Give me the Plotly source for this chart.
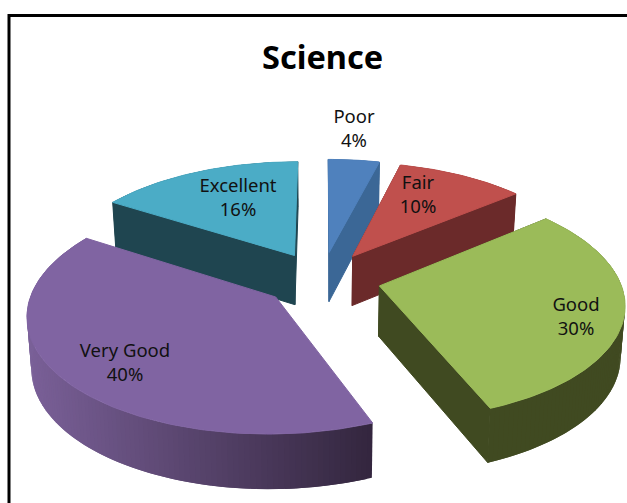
import math
import plotly.graph_objects as go

# Data
categories = ["Poor", "Fair", "Good", "Very Good", "Excellent"]
percents = [4, 10, 30, 40, 16]

# Styles
top_colors = ["#4F81BD", "#C0504D", "#9BBB59", "#8064A2", "#4BACC6"]
side_colors = ["#3B6796", "#6B2A2A", "#404A21", None, "#1F4550"]
label_x = [354, 418, 576, 125, 238]
label_y = [130, 196, 318, 364, 199]
draw_order = [0, 1, 4, 3, 2]

# Projection of the tilted pie
CX, CY, RX, RY, K, EXPLODE, DEPTH, DEPTH_K, SHRINK = 322, 279, 240, 112.7, 0.138, 0.245, 50, 0.08, 0.985


def project(wx, wy, lower=False):
    w = 1 + K * wy
    x = CX + RX * wx / w
    y = CY - RY * wy / w
    if lower:
        x = CX + (x - CX) * SHRINK
        y += DEPTH / (1 + DEPTH_K * wy)
    return x, y


def outline(start, end, lower=False):
    """Outline of a wedge: apex first, then the rim from start to end angle."""
    mid = (start + end) / 2
    ax, ay = EXPLODE * math.sin(mid), EXPLODE * math.cos(mid)
    n = max(6, int((end - start) / 0.02))
    pts = [project(ax, ay, lower)]
    for i in range(n + 1):
        t = start + (end - start) * i / n
        pts.append(project(ax + math.sin(t), ay + math.cos(t), lower))
    return pts


def mix(a, b, f):
    return "rgb(%d,%d,%d)" % tuple(round(a[i] + (b[i] - a[i]) * f) for i in range(3))


def poly(fig, pts, color, lw):
    fig.add_trace(go.Scatter(
        x=[p[0] for p in pts] + [pts[0][0]], y=[p[1] for p in pts] + [pts[0][1]],
        mode="lines", fill="toself", fillcolor=color,
        line=dict(color=color, width=lw), hoverinfo="skip", showlegend=False))


fig = go.Figure()
angles = [0]
for p in percents:
    angles.append(angles[-1] + 2 * math.pi * p / sum(percents))

for idx in draw_order:
    s, e = angles[idx], angles[idx + 1]
    top = outline(s, e)
    low = outline(s, e, True)
    m = len(top)
    xs_all = [p[0] for p in top[1:]]
    lo, hi = min(xs_all), max(xs_all)
    # outer wall: strips, each overlapped by the next one
    for i in range(1, m - 1):
        k = min(i + 2, m - 1)
        if side_colors[idx] is None:
            f = ((top[i][0] + top[i + 1][0]) / 2 - lo) / (hi - lo)
            col = mix((0x7A, 0x60, 0x98), (0x33, 0x26, 0x3E), f)
        else:
            col = side_colors[idx]
        poly(fig, [top[i], top[k], low[k], low[i]], col, 0)
    # the two cut faces
    if side_colors[idx] is not None:
        poly(fig, [top[0], top[1], low[1], low[0]], side_colors[idx], 1)
        poly(fig, [top[0], top[-1], low[-1], low[0]], side_colors[idx], 1)
    poly(fig, top, top_colors[idx], 1)

fig.add_trace(go.Scatter(
    x=label_x, y=label_y, mode="text",
    text=[f"{c}<br>{p}%" for c, p in zip(categories, percents)],
    textposition="middle center",
    textfont=dict(family="Noto Sans", size=18.5, color="#111111"),
    hoverinfo="skip", showlegend=False))

fig.add_shape(type="line", x0=9, x1=9, y0=14, y1=503, line=dict(color="black", width=3))
fig.add_shape(type="line", x0=8, x1=627, y0=15.5, y1=15.5, line=dict(color="black", width=3))

fig.add_annotation(x=322, y=56, text="<b>Science</b>", showarrow=False,
                   font=dict(family="Noto Sans", size=32.5, color="black"))

fig.update_layout(
    width=627, height=503, margin=dict(l=0, r=0, t=0, b=0),
    paper_bgcolor="white", plot_bgcolor="white", showlegend=False,
    xaxis=dict(range=[0, 627], visible=False, fixedrange=True),
    yaxis=dict(range=[503, 0], visible=False, fixedrange=True),
)
fig.write_html("out.html", config={"displayModeBar": False},
               post_script="document.body.style.margin='0';document.documentElement.style.overflow='hidden';")
